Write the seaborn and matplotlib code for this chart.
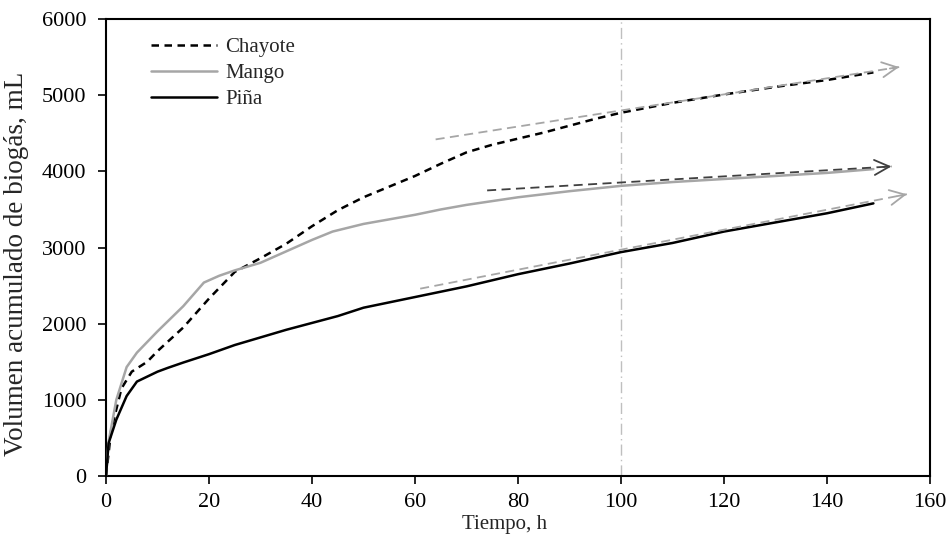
import matplotlib
matplotlib.use("Agg")
import matplotlib.pyplot as plt
import seaborn as sns
import pandas as pd

# ---- data ----
chayote_t = [0, 1, 3, 5, 8, 10, 15, 20, 25, 30, 35, 40, 45, 50, 55, 60, 65, 70, 75, 80, 85, 90, 95, 100, 110, 120, 130, 140, 149]
chayote_v = [0, 600, 1150, 1370, 1500, 1640, 1950, 2330, 2680, 2860, 3050, 3280, 3490, 3660, 3800, 3940, 4100, 4250, 4350, 4430, 4510, 4600, 4690, 4770, 4900, 5010, 5110, 5200, 5300]

mango_t = [0, 0.5, 2, 4, 6, 10, 15, 19, 22, 25, 30, 35, 40, 44, 50, 55, 60, 65, 70, 80, 90, 100, 110, 120, 130, 140, 149]
mango_v = [0, 450, 1000, 1430, 1620, 1900, 2230, 2540, 2630, 2700, 2800, 2950, 3100, 3210, 3310, 3370, 3430, 3500, 3560, 3660, 3740, 3810, 3860, 3900, 3940, 3980, 4030]

pina_t = [0, 0.5, 2, 4, 6, 10, 12, 15, 20, 25, 30, 35, 40, 45, 50, 55, 60, 70, 80, 90, 100, 110, 120, 130, 140, 149]
pina_v = [0, 430, 740, 1050, 1240, 1370, 1420, 1490, 1600, 1720, 1820, 1920, 2010, 2100, 2210, 2280, 2350, 2490, 2650, 2790, 2940, 3060, 3210, 3330, 3450, 3580]

series_names = ["Chayote", "Mango", "Piña"]

# trend arrows (start -> tip)
trend_x0 = [64, 74, 61]
trend_y0 = [4420, 3750, 2460]
trend_x1 = [154, 152.5, 155.5]
trend_y1 = [5370, 4065, 3700]
trend_colors = ["#a6a6a6", "#404040", "#a6a6a6"]

x_ticks = [0, 20, 40, 60, 80, 100, 120, 140, 160]
y_ticks = [0, 1000, 2000, 3000, 4000, 5000, 6000]

sns.set_style("white")
plt.rcParams['font.family'] = ['Liberation Serif', 'DejaVu Serif']

fig = plt.figure(figsize=(9.5, 5.45), dpi=100)
ax = fig.add_axes([0.1116, 0.1266, 0.979 - 0.1116, 0.965 - 0.1266])

# vertical reference line
ax.axvline(100, color="#bfbfbf", lw=1.0, ls=(0, (8, 3, 1, 3)), zorder=1)

dfs = [
    pd.DataFrame({"t": chayote_t, "v": chayote_v}),
    pd.DataFrame({"t": mango_t, "v": mango_v}),
    pd.DataFrame({"t": pina_t, "v": pina_v}),
]
styles = [("black", (0, (3.0, 2.2))), ("#a6a6a6", "-"), ("black", "-")]
for df, name, (c, ls) in zip(dfs, series_names, styles):
    sns.lineplot(data=df, x="t", y="v", ax=ax, color=c, lw=1.8, label=name, zorder=3)
    ax.lines[-1].set_linestyle(ls)

# trend arrows
for x0, y0, x1, y1, c in zip(trend_x0, trend_y0, trend_x1, trend_y1, trend_colors):
    ax.plot([x0, x1], [y0, y1], color=c, lw=1.3, ls=(0, (5, 3)), zorder=4)
    dx, dy = x1 - x0, y1 - y0
    ax.annotate("", xy=(x1, y1), xytext=(x1 - dx * 0.02, y1 - dy * 0.02),
                arrowprops=dict(arrowstyle="->,head_length=0.9,head_width=0.45",
                                color=c, lw=1.3, mutation_scale=12, shrinkA=0, shrinkB=0),
                zorder=4)

ax.set_xlim(0, 160)
ax.set_ylim(0, 6000)
ax.set_xticks(x_ticks)
ax.set_yticks(y_ticks)
ax.tick_params(axis="both", direction="out", length=6, width=1.2, labelsize=16,
               bottom=True, left=True, top=False, right=False, colors="black")
ax.tick_params(axis="y", pad=8)
ax.tick_params(axis="x", pad=6)
for s in ax.spines.values():
    s.set_color("black")
    s.set_linewidth(1.5)

ax.set_xlabel("Tiempo, h", fontsize=15)
ax.xaxis.set_label_coords(0.484, -0.085)
ax.set_ylabel("Volumen acumulado de biogás, mL", fontsize=19.5)
ax.yaxis.set_label_coords(-0.093, 0.464)

leg = ax.legend(loc="upper left", bbox_to_anchor=(0.032, 1.0), frameon=False, fontsize=15,
                handlelength=3.15, handletextpad=0.4, labelspacing=0.3)
for h, (c, ls) in zip(leg.get_lines(), styles):
    h.set_linestyle(ls)
    h.set_color(c)

fig.savefig("out.png", dpi=100)
